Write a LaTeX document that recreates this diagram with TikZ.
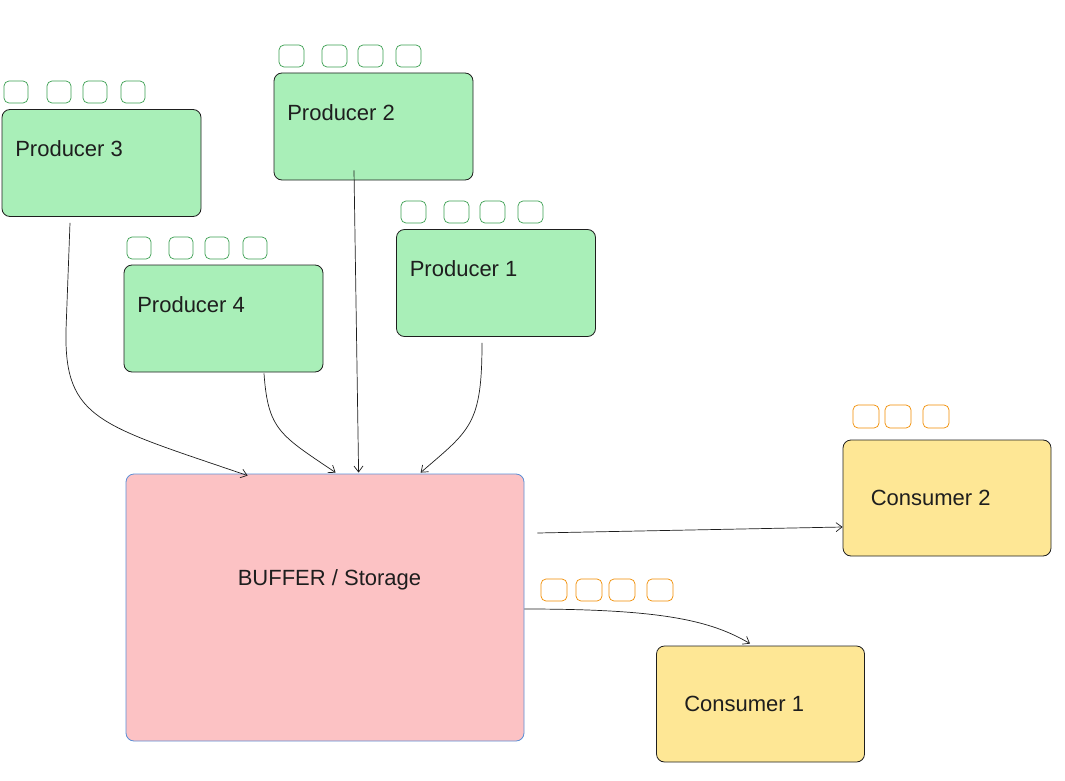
\documentclass[tikz,border=0pt]{standalone}
\usepackage{fontspec}
\setmainfont{Liberation Sans}
\usetikzlibrary{positioning}
\usetikzlibrary{arrows.meta}

\definecolor{prodfill}{HTML}{A9EFB8}
\definecolor{bufffill}{HTML}{FCC2C4}
\definecolor{buffline}{HTML}{5B8FD6}
\definecolor{consfill}{HTML}{FEE795}
\definecolor{slotgreen}{HTML}{3A9E50}
\definecolor{slotorange}{HTML}{F08C00}
\definecolor{inkline}{HTML}{1E1E1E}

\begin{document}
\begin{tikzpicture}[x=1pt, y=-1pt,
	box/.style={draw=inkline, line width=0.8pt, rounded corners=8pt, inner sep=0pt},
	producer/.style={box, fill=prodfill, minimum width=199pt, minimum height=107pt},
	consumer/.style={box, fill=consfill, minimum width=208pt, minimum height=116pt},
	store/.style={box, draw=buffline, fill=bufffill, minimum width=398pt, minimum height=267pt},
	lbl/.style={font=\fontsize{22}{26}\selectfont, text=inkline, inner sep=0pt},
	slot/.style={line width=0.7pt, rounded corners=5pt},
	flow/.style={draw=inkline, line width=0.7pt, -{Straight Barb[length=6pt,width=9pt]}}]
	
	% ------------------------------------------------
	% Ensure the dimensions of graphic are appropriate
	\useasboundingbox (0,0) rectangle (1065,781);
	
	% ------------------------------------------------
	% Boxes
	\node[producer] (prodC) at (101.5,163)  {};
	\node[producer] (prodB) at (373.5,126.5) {};
	\node[producer] (prodA) at (496,283)    {};
	\node[producer] (prodD) at (223.5,318.5) {};
	\node[store]    (buffer) at (325,607.5) {};
	\node[consumer] (consB) at (947,498)    {};
	\node[consumer] (consA) at (760.5,704)  {};
	
	% ----------------
	% Labels
	\node[lbl, anchor=base west] (prodCtxt) at ([xshift=13.5pt,yshift=-47.5pt]prodC.north west) {Producer 3};
	\node[lbl, anchor=base west] (prodBtxt) at ([xshift=13.5pt,yshift=-47.5pt]prodB.north west) {Producer 2};
	\node[lbl, anchor=base west] (prodAtxt) at ([xshift=13.5pt,yshift=-47.5pt]prodA.north west) {Producer 1};
	\node[lbl, anchor=base west] (prodDtxt) at ([xshift=13.5pt,yshift=-47.5pt]prodD.north west) {Producer 4};
	\node[lbl, anchor=base] (buffertxt) at ([xshift=4.5pt,yshift=-112pt]buffer.north) {BUFFER / Storage};
	\node[lbl, anchor=base west] (consBtxt) at ([xshift=28pt,yshift=-65.5pt]consB.north west) {Consumer 2};
	\node[lbl, anchor=base west] (consAtxt) at ([xshift=28pt,yshift=-65.5pt]consA.north west) {Consumer 1};
	
	% ----------------
	% Queued items
	\foreach \qx in {4,47,83,121}   \draw[slot, slotgreen] (\qx,81)  rectangle ++(24,22);
	\foreach \qx in {279,322,358,396} \draw[slot, slotgreen] (\qx,45)  rectangle ++(25,22);
	\foreach \qx in {127,169,205,243} \draw[slot, slotgreen] (\qx,237) rectangle ++(24,22);
	\foreach \qx in {401,444,480,518} \draw[slot, slotgreen] (\qx,201) rectangle ++(25,22);
	\foreach \qx in {853,885,923}   \draw[slot, slotorange] (\qx,405) rectangle ++(26,23);
	\foreach \qx in {541,576,609,647} \draw[slot, slotorange] (\qx,579) rectangle ++(26,22);
	
	% ------------------------------------------------
	% Relevant coordinates
	\path (prodC.south) +(-31.5,6)  coordinate (cTail);
	\path (prodD.south) +(40.5,1)   coordinate (dTail);
	\path (prodB.south) +(-19.5,-10) coordinate (bTail);
	\path (prodA.south) +(-14,6)    coordinate (aTail);
	
	\path (buffer.north west) +(122,2)  coordinate (cHead);
	\path (buffer.north west) +(210,-1) coordinate (dHead);
	\path (buffer.north west) +(233,-1) coordinate (bHead);
	\path (buffer.north west) +(295,-1) coordinate (aHead);
	
	\path (buffer.east) +(13,-74.5) coordinate (outB);
	\path (buffer.east) +(0,1.5)    coordinate (outA);
	\path (consB.west)  +(0,29)     coordinate (inB);
	\path (consA.north) +(-10.5,-2) coordinate (inA);
	
	%%%%%%%%%%%%%%%%%%%%%%%%%%%%%%%%%%%%%%%%%
	% Connectors
	\draw[flow] (cTail) -- (66,330) .. controls (64,420) and (100,425) .. (cHead);
	\draw[flow] (dTail) .. controls (268,430) and (280,435) .. (dHead);
	\draw[flow] (bTail) -- (bHead);
	\draw[flow] (aTail) .. controls (482,425) and (470,430) .. (aHead);
	
	\draw[flow] (outB) -- (inB);
	\draw[flow] (outA) .. controls (660,609) and (710,620) .. (inA);
	
\end{tikzpicture}
\end{document}
